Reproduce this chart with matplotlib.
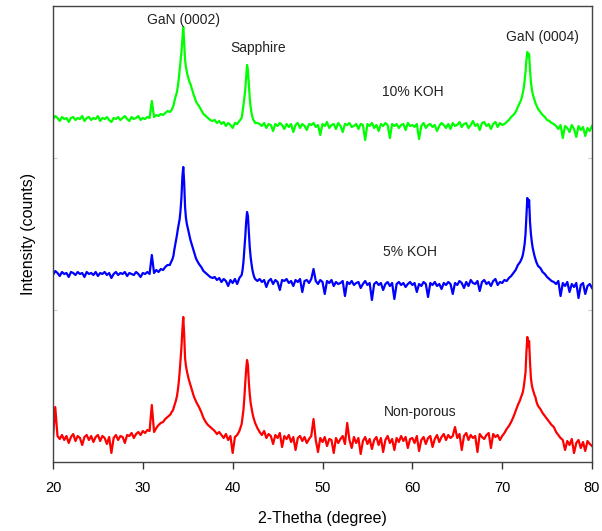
import numpy as np
import matplotlib
matplotlib.use("Agg")
import matplotlib.pyplot as plt

plt.rcParams['font.family'] = ['Liberation Sans', 'DejaVu Sans']

# 2-theta scan positions (coarse steps on baseline, fine steps across peaks)
two_theta = np.concatenate([
    np.linspace(20.0, 32.75, 52),
    np.linspace(33.0, 36.0, 31),
    np.linspace(36.25, 40.75, 19),
    np.linspace(41.0, 42.5, 16),
    np.linspace(42.75, 71.75, 117),
    np.linspace(72.0, 74.0, 21),
    np.linspace(74.25, 80.0, 24),
])

# intensities (arbitrary counts, stacked as in the figure)
koh10 = [
    343, 346, 344, 341, 345, 343, 344, 340, 344, 345, 342, 344, 343, 346, 341, 344,
    345, 342, 344, 343, 346, 341, 344, 343, 345, 342, 340, 344, 343, 345, 342, 344,
    346, 343, 341, 345, 343, 344, 346, 342, 344, 343, 345, 344, 361, 345, 347, 346,
    348, 347, 349, 351,
    350, 351, 352, 354, 356, 360, 364, 367, 370, 376, 383, 392, 400, 410, 423, 435,
    420, 402, 395, 390, 386, 383, 380, 378, 375, 372, 369, 366, 364, 361, 359,
    356, 352, 348, 346, 344, 342, 341, 342, 339, 341, 338, 340, 336, 339, 337, 334,
    339, 338, 341,
    344, 350, 357, 364, 372, 385, 397, 392, 378, 364, 355, 349, 345, 342, 341, 339,
    339,
    338, 336, 339, 334, 338, 337, 331, 338, 336, 339, 337, 333, 338, 335, 338, 330,
    337, 339, 334, 338, 336, 332, 338, 337, 339, 335, 337, 327, 338, 336, 340, 334,
    337, 338, 333, 339, 336, 330, 338, 337, 339, 335, 336, 338, 333, 338, 337, 322,
    338, 336, 339, 334, 337, 331, 338, 336, 339, 337, 324, 338, 336, 338, 334, 337,
    338, 332, 339, 336, 337, 335, 338, 323, 336, 339, 334, 337, 338, 335, 337, 331,
    336, 339, 337, 334, 338, 333, 339, 336, 337, 340, 335, 338, 339, 334, 337, 341,
    336, 338, 332, 339, 340, 336, 338, 333, 338, 340, 335, 339, 337, 338, 340, 342,
    345, 347, 350, 355,
    360, 362, 365, 369, 374, 381, 390, 402, 410, 405, 408, 392, 380, 373, 368, 365,
    362, 359, 357, 355, 353,
    350, 347, 345, 342, 341, 339, 338, 336, 333, 337, 324, 336, 334, 330, 337, 333,
    325, 336, 332, 335, 326, 334, 331, 336,
]

koh5 = [
    187, 191, 189, 186, 190, 188, 189, 185, 190, 189, 187, 190, 188, 189, 185, 190,
    188, 189, 187, 190, 186, 189, 188, 190, 187, 189, 184, 188, 190, 187, 189, 188,
    190, 186, 189, 188, 187, 190, 188, 185, 189, 188, 190, 188, 207, 189, 192, 190,
    193, 192, 195, 197,
    197, 199, 201, 203, 206, 212, 217, 222, 227, 233, 238, 243, 252, 265, 285, 295,
    280, 255, 244, 238, 234, 230, 226, 222, 219, 216, 213, 210, 207, 204, 202,
    198, 195, 191, 189, 187, 185, 184, 185, 182, 184, 180, 183, 181, 176, 182, 179,
    183, 178, 184,
    187, 192, 200, 212, 225, 240, 250, 246, 230, 215, 205, 198, 192, 188, 185, 183,
    181,
    183, 180, 182, 175, 181, 183, 178, 182, 180, 172, 182, 181, 183, 179, 181, 176,
    182, 180, 183, 170, 181, 182, 179, 183, 193, 181, 178, 182, 180, 168, 181, 179,
    182, 176, 180, 178, 179, 181, 166, 180, 178, 181, 177, 179, 180, 174, 178, 181,
    177, 179, 162, 178, 180, 177, 179, 172, 178, 180, 176, 179, 163, 178, 180, 177,
    179, 175, 178, 180, 177, 179, 170, 178, 176, 180, 178, 165, 179, 177, 180, 176,
    178, 173, 179, 177, 180, 178, 168, 179, 177, 181, 179, 174, 180, 176, 182, 179,
    178, 181, 171, 180, 182, 178, 180, 176, 181, 183, 177, 180, 179, 182, 181, 184,
    186, 189, 192, 197,
    200, 202, 204, 207, 212, 218, 228, 245, 264, 255, 262, 240, 228, 220, 214, 210,
    206, 203, 200, 198, 196,
    194, 190, 188, 185, 183, 181, 180, 178, 181, 166, 179, 176, 180, 170, 178, 175,
    179, 164, 177, 179, 168, 176, 178, 174,
]

non_porous = [
    24, 55, 26, 23, 27, 22, 26, 19, 25, 28, 21, 26, 24, 17, 25, 27,
    22, 26, 20, 25, 27, 21, 26, 24, 18, 25, 9, 24, 27, 22, 26, 25,
    19, 27, 26, 29, 24, 28, 30, 27, 31, 29, 32, 31, 57, 30, 34, 37,
    39, 40, 43, 45,
    47, 48, 50, 51, 53, 56, 59, 62, 66, 72, 80, 90, 102, 115, 132, 145,
    128, 104, 96, 91, 87, 83, 80, 77, 74, 71, 68, 65, 63, 61, 59,
    55, 50, 44, 40, 37, 35, 33, 31, 28, 30, 27, 24, 28, 22, 26, 9,
    25, 27, 31,
    38, 45, 52, 64, 79, 92, 102, 97, 80, 68, 59, 54, 49, 45, 42, 39,
    34,
    30, 27, 31, 24, 28, 26, 18, 27, 24, 29, 15, 26, 23, 27, 20, 25,
    12, 24, 26, 21, 25, 19, 23, 26, 43, 22, 10, 24, 20, 25, 16, 23,
    22, 9, 24, 19, 23, 26, 18, 39, 22, 14, 25, 19, 24, 8, 21, 25,
    18, 23, 13, 22, 25, 17, 24, 10, 22, 26, 19, 23, 12, 24, 20, 26,
    21, 25, 14, 23, 24, 19, 26, 11, 22, 25, 18, 24, 26, 15, 23, 27,
    20, 25, 28, 22, 27, 24, 26, 35, 24, 28, 12, 26, 29, 22, 27, 24,
    26, 10, 28, 25, 23, 27, 29, 14, 28, 25, 27, 22, 26, 29, 33, 36,
    40, 45, 51, 57,
    62, 65, 67, 70, 75, 82, 90, 110, 125, 115, 121, 100, 84, 77, 73, 70,
    67, 65, 61, 58, 56,
    53, 49, 46, 43, 40, 37, 35, 30, 27, 24, 22, 12, 21, 17, 23, 9,
    19, 22, 14, 20, 11, 21, 18, 16,
]

peak_labels = ["GaN (0002)", "Sapphire", "GaN (0004)"]
peak_label_pos = [(34.5, 442), (42.8, 414), (74.5, 425)]
sample_labels = ["10% KOH", "5% KOH", "Non-porous"]
sample_label_pos = [(60.1, 370), (59.7, 210), (60.9, 50)]
x_ticks = [20, 30, 40, 50, 60, 70, 80]

fig = plt.figure(figsize=(6.02, 5.31), dpi=100)
ax = fig.add_axes([53 / 602, 69 / 531, 539 / 602, 456 / 531])

ax.plot(two_theta, koh10, color="#00ff00", lw=1.6)
ax.plot(two_theta, koh5, color="#0000ff", lw=1.6)
ax.plot(two_theta, non_porous, color="#ff0000", lw=1.6)

for t, (x, y) in zip(peak_labels, peak_label_pos):
    ax.text(x, y, t, ha="center", va="center", fontsize=10, color="#222222")
for t, (x, y) in zip(sample_labels, sample_label_pos):
    ax.text(x, y, t, ha="center", va="center", fontsize=10, color="#222222")

ax.set_xlim(20, 80)
ax.set_ylim(0, 456)
ax.set_xticks(x_ticks)
ax.set_xticklabels([str(v) for v in x_ticks], fontsize=10.5)
ax.set_yticks([152, 304])
ax.set_yticklabels([])
ax.tick_params(axis="x", direction="out", length=5, width=1, pad=9, color="#333333")
ax.tick_params(axis="y", direction="in", length=3, width=0.8, color="#cccccc",
               left=True, right=True)
for s in ax.spines.values():
    s.set_color("#444444")
    s.set_linewidth(1.0)

ax.set_xlabel("2-Thetha (degree)", fontsize=11.5, labelpad=11)
ax.set_ylabel("Intensity (counts)", fontsize=11.5, labelpad=9)

fig.savefig("out.png", dpi=100)
